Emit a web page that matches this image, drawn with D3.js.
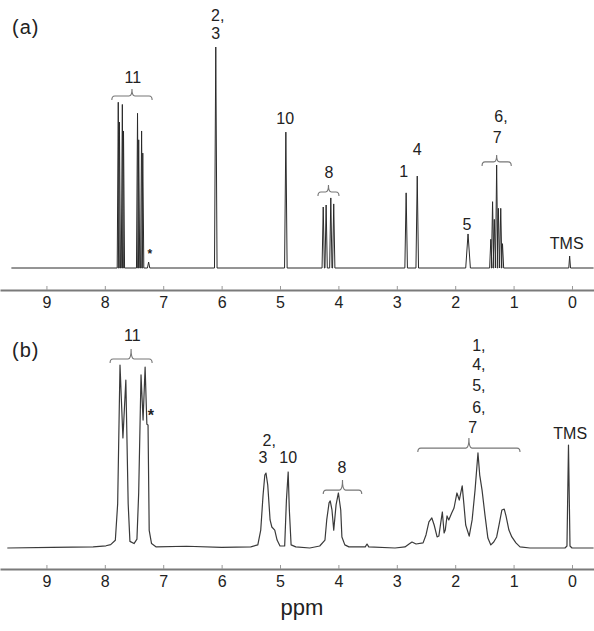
<!DOCTYPE html>
<html>
<head>
<meta charset="utf-8">
<script src="https://cdn.jsdelivr.net/npm/d3@7"></script>
<style>
  body { margin: 0; background: #fff; }
  text { font-family: "Liberation Sans", Arial, sans-serif; fill: #222; }
</style>
</head>
<body>
<div id="chart"></div>
<script>
var width = 594, height = 631;

// tick labels (ppm)
const ppmTicks = [9, 8, 7, 6, 5, 4, 3, 2, 1, 0];

// panel (a): sharp lines [ppm, intensity, half width in ppm]
const peaksA = [
  [7.77, 75, 0.018], [7.75, 66, 0.018], [7.70, 74, 0.018], [7.68, 62, 0.018],
  [7.44, 70, 0.018], [7.42, 58, 0.018], [7.37, 62, 0.018], [7.35, 52, 0.018],
  [7.25, 2.7, 0.02],
  [6.10, 100, 0.022],
  [4.90, 61.5, 0.022],
  [4.26, 27.6, 0.02], [4.21, 28.5, 0.02], [4.13, 31.7, 0.02], [4.08, 29, 0.02],
  [2.84, 34, 0.022],
  [2.65, 41.6, 0.022],
  [1.78, 15.4, 0.04],
  [1.39, 13, 0.02], [1.36, 30, 0.02], [1.33, 22, 0.02], [1.29, 46.6, 0.02],
  [1.26, 27, 0.02], [1.22, 27, 0.02], [1.19, 11, 0.02],
  [0.04, 5.4, 0.015]
];

// panel (b): traced spectrum [ppm, intensity]
const traceB = [
  [9.67, 0], [8.9, 0.3], [8.2, 0.5], [7.98, 1.0], [7.90, 1.5], [7.82, 3.5], [7.78, 20],
  [7.74, 82.8], [7.69, 49.8], [7.64, 76], [7.60, 20], [7.57, 3], [7.50, 2],
  [7.45, 4], [7.42, 25], [7.38, 78.3], [7.345, 57.9], [7.31, 81.9], [7.28, 56],
  [7.26, 55.7], [7.24, 8], [7.20, 2], [7.12, 0.5], [6.6, 0.8], [6.0, 0.3],
  [5.5, 0.5], [5.38, 1.4], [5.33, 8.1], [5.29, 24], [5.26, 33], [5.24, 33.9],
  [5.21, 28.5], [5.17, 12.7], [5.14, 9.5], [5.09, 8.1], [5.05, 3.6], [5.0, 0.9],
  [4.92, 0.9], [4.89, 21.7], [4.86, 34.4], [4.84, 17.2], [4.81, 1.4], [4.73, 0.5],
  [4.49, 0], [4.32, 0.9], [4.23, 3.6], [4.20, 12.7], [4.16, 20.4], [4.14, 21.3],
  [4.11, 17.2], [4.08, 8.1], [4.04, 19.5], [4.00, 24.9], [3.96, 17.2], [3.94, 5],
  [3.89, 1.4], [3.82, 0.5], [3.54, 0.5], [3.51, 1.8], [3.48, 0.5], [3.03, 0],
  [2.86, 0.5], [2.79, 1.8], [2.74, 2.7], [2.67, 1.8], [2.55, 2.3], [2.50, 5.9],
  [2.45, 11.8], [2.40, 13.6], [2.36, 10.4], [2.31, 5], [2.28, 5.4], [2.24, 12.7],
  [2.22, 16.3], [2.19, 6.8], [2.17, 8.1], [2.14, 14.5], [2.11, 12.7], [2.06, 15.8],
  [2.02, 18.1], [1.97, 24.9], [1.93, 21.7], [1.88, 28.1], [1.85, 19.5], [1.82, 10.4],
  [1.76, 5.4], [1.71, 12.7], [1.66, 26.2], [1.61, 43], [1.58, 33], [1.54, 26.2],
  [1.49, 14.9], [1.44, 4.5], [1.39, 1.4], [1.34, 2.7], [1.29, 5], [1.25, 10.4],
  [1.20, 17.2], [1.16, 17.6], [1.13, 14.5], [1.08, 8.1], [1.03, 5], [0.96, 2.3],
  [0.89, 0.5], [0.72, 0], [0.12, 0], [0.086, 0.9], [0.06, 46.6], [0.034, 0.9],
  [0, 0], [-0.37, 0]
];

// peak labels: text, ppm, intensity
const labelsA = [
  ["11", 7.52, 86.4], ["2,", 6.10, 114.5], ["3", 6.10, 106.3], ["10", 4.91, 67.9],
  ["8", 4.16, 43.4], ["1", 2.88, 43.9], ["4", 2.65, 53.8], ["5", 1.80, 19.9],
  ["6,", 1.25, 68.8], ["7", 1.28, 59.3], ["TMS", 0.09, 11.3]
];
const labelsB = [
  ["11", 7.53, 96.4], ["2,", 5.22, 48.9], ["3", 5.29, 41.2], ["10", 4.86, 41.2],
  ["8", 3.94, 36.7], ["1,", 1.63, 91.9], ["4,", 1.63, 83.3], ["5,", 1.63, 73.8],
  ["6,", 1.63, 63.8], ["7", 1.70, 54.8], ["TMS", 0.03, 52]
];
// braces: from ppm, to ppm, intensity
const bracesA = [[7.88, 7.19, 77.8], [4.35, 3.99, 34.4], [1.54, 1.04, 48]];
const bracesB = [[7.91, 7.19, 85.5], [4.26, 3.60, 26.2], [2.64, 0.89, 45.2]];

var svg = d3.select("#chart").append("svg")
  .attr("width", width)
  .attr("height", height);

var x = d3.scaleLinear().domain([9.795, -0.377]).range([0, width]);

var panels = [
  { name: "(a)", base: 268, axisY: 290, labY: 27, lineStart: 9.6, stroke: "#2a2a2a", sw: 1,
    labels: labelsA, braces: bracesA, star: [7.23, 8.1, 12] },
  { name: "(b)", base: 548, axisY: 569, labY: 350, lineStart: 9.67, stroke: "#3a3a3a", sw: 1.2,
    labels: labelsB, braces: bracesB, star: [7.21, 62.4, 16] }
];

function bracePath(x1, x2, y, tip) {
  var m = (x1 + x2) / 2, r = 3;
  return "M" + x1 + "," + (y + 4) + " Q" + x1 + "," + y + " " + (x1 + r) + "," + y +
    " L" + (m - 3) + "," + y + " Q" + m + "," + y + " " + m + "," + (y - tip) +
    " Q" + m + "," + y + " " + (m + 3) + "," + y +
    " L" + (x2 - r) + "," + y + " Q" + x2 + "," + y + " " + x2 + "," + (y + 4);
}

// build trace (a) from line list
var traceA = [[9.6, 0]];
peaksA.forEach(function(p) {
  traceA.push([p[0] + p[2], 0], [p[0], p[1]], [p[0] - p[2], 0]);
});
traceA.push([-0.37, 0]);

panels.forEach(function(p, i) {
  var y = d3.scaleLinear().domain([0, 100]).range([p.base, p.base - 221]);
  var g = svg.append("g");

  // axis
  var axis = d3.axisBottom(x).tickValues(ppmTicks).tickFormat(d3.format("d"))
    .tickSize(-4).tickSizeOuter(0).tickPadding(7);
  var ax = g.append("g").attr("transform", "translate(0," + p.axisY + ")").call(axis);
  ax.select(".domain").attr("stroke", "#7a7a7a").attr("stroke-width", 2.2);
  ax.selectAll(".tick line").attr("stroke", "#999");
  ax.selectAll(".tick text").style("font-size", "16px").attr("fill", "#222")
    .style("font-family", "'Liberation Sans', Arial, sans-serif");

  // spectrum
  var data = i === 0 ? traceA : traceB;
  var line = d3.line().x(function(d) { return x(d[0]); }).y(function(d) { return y(d[1]); });
  g.append("path").datum(data)
    .attr("d", line)
    .attr("fill", "none")
    .attr("stroke", p.stroke)
    .attr("stroke-width", p.sw)
    .attr("stroke-linejoin", "round");

  // braces
  g.selectAll(".brace").data(p.braces).enter().append("path")
    .attr("class", "brace")
    .attr("d", function(d) { return bracePath(x(d[0]), x(d[1]), y(d[2]), i === 0 ? 7 : 10); })
    .attr("fill", "none").attr("stroke", "#777").attr("stroke-width", 1.1);

  // labels
  g.selectAll(".lab").data(p.labels).enter().append("text")
    .attr("class", "lab")
    .attr("x", function(d) { return x(d[1]); })
    .attr("y", function(d) { return y(d[2]); })
    .attr("dx", function(d) { return d[0].length === 2 && d[0][1] === "," ? 2 : 0; })
    .attr("dy", "0.36em")
    .attr("text-anchor", "middle")
    .style("font-size", "16px")
    .text(function(d) { return d[0]; });

  // solvent star
  g.append("text")
    .attr("x", x(p.star[0])).attr("y", y(p.star[1]))
    .attr("dy", "0.7em")
    .attr("text-anchor", "middle")
    .style("font-size", p.star[2] + "px").style("font-weight", "bold")
    .text("*");

  // panel letter
  g.append("text")
    .attr("x", 12).attr("y", p.labY).attr("dy", "0.36em")
    .style("font-size", "20px").style("letter-spacing", "1px")
    .text(p.name);
});

svg.append("text")
  .attr("x", 302).attr("y", 607).attr("dy", "0.36em")
  .attr("text-anchor", "middle")
  .style("font-size", "22px")
  .text("ppm");
</script>
</body>
</html>
